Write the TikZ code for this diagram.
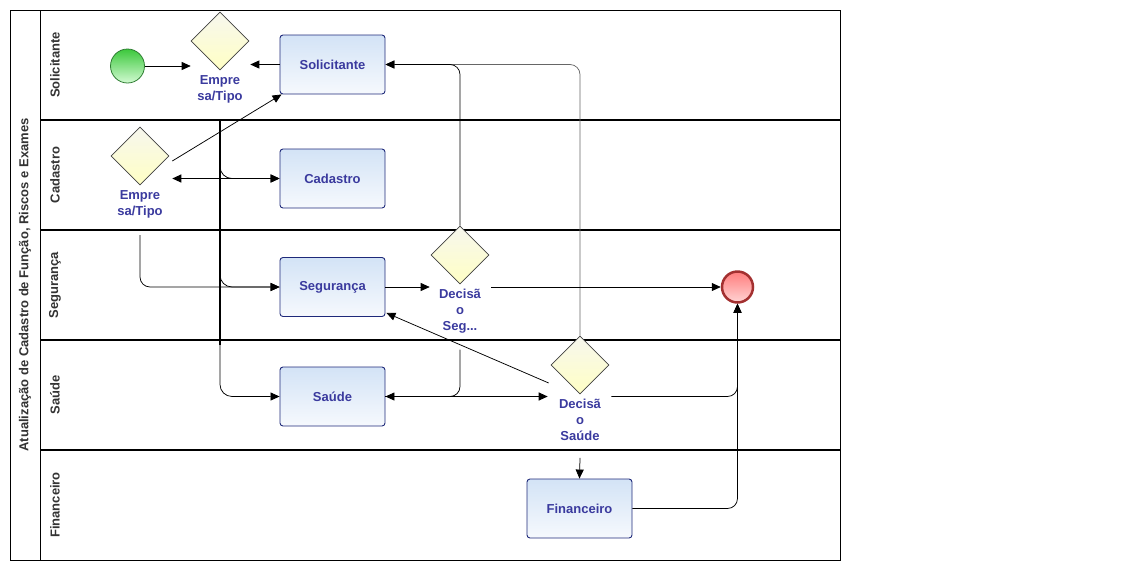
\documentclass[tikz,border=0pt]{standalone}
\usepackage{fontspec}
\setmainfont{Liberation Sans}
\usetikzlibrary{shapes.geometric,arrows.meta,calc}
\definecolor{txtblue}{HTML}{3A3A9E}
\definecolor{tasknavy}{HTML}{1F2A7A}
\definecolor{tasktop}{HTML}{D3E3F6}
\definecolor{taskbot}{HTML}{F6F9FD}
\definecolor{gwtop}{HTML}{F7F7EE}
\definecolor{gwbot}{HTML}{FFFFC4}
\definecolor{sttop}{HTML}{3CC83C}
\definecolor{stbot}{HTML}{D2FAD2}
\definecolor{stdraw}{HTML}{2E7D32}
\definecolor{entop}{HTML}{FF7C7C}
\definecolor{enbot}{HTML}{FFD4D4}
\definecolor{endraw}{HTML}{A33030}
\newcommand\bpfont{\bfseries\fontsize{13}{16}\selectfont}
\tikzset{
  task/.style={draw=tasknavy, line width=0.9pt, rounded corners=3pt, top color=tasktop, bottom color=taskbot,
    minimum width=105pt, minimum height=59pt, inner sep=0pt, font=\bpfont, text=txtblue},
  gate/.style={diamond, draw=black!75, line width=0.6pt, top color=gwtop, bottom color=gwbot,
    minimum width=58pt, minimum height=58pt, inner sep=0pt},
  gwlabel/.style={font=\bpfont, text=txtblue, align=center, inner sep=0pt, anchor=north},
  lanelabel/.style={rotate=90, font=\bpfont, text=black!80},
  tip/.tip={Triangle[length=9pt,width=8pt]},
  flow/.style={line width=0.75pt, -tip, rounded corners=10pt},
  lane/.style={line width=2.2pt},
}
\begin{document}
\begin{tikzpicture}[x=1pt,y=-1pt]
\useasboundingbox (0,0) rectangle (1141,566);
% pool and lanes
\draw[line width=0.8pt] (10,10) rectangle (840,560);
\draw[line width=0.8pt] (40,10) -- (40,560);
\foreach \yy in {120,230,340,450} \draw[lane] (40,\yy) -- (840,\yy);
\node[lanelabel] (pool) at (25,285) {Atualização de Cadastro de Função, Riscos e Exames};
\node[lanelabel] (l1) at (55,65) {Solicitante};
\node[lanelabel] (l2) at (55,175) {Cadastro};
\node[lanelabel] (l3) at (55,285) {Segurança};
\node[lanelabel] (l4) at (55,395) {Saúde};
\node[lanelabel] (l5) at (55,505) {Financeiro};
% events
\node[circle, draw=stdraw, line width=0.8pt, top color=sttop, bottom color=stbot, minimum size=34pt, inner sep=0pt] (start) at (127.5,66) {};
\node[circle, draw=endraw, line width=2.5pt, top color=entop, bottom color=enbot, minimum size=31pt, inner sep=0pt] (end) at (737.5,287) {};
% gateways
\node[gate] (D1) at (220,41) {};
\node[gwlabel] (L1) at (220,75) {Empre\\sa/Tipo};
\node[gate] (D2) at (140,156) {};
\node[gwlabel] (L2) at (140,190) {Empre\\sa/Tipo};
\node[gate] (DSeg) at (460,255) {};
\node[gwlabel] (LSeg) at (460,289) {Decisã\\o\\Seg...};
\node[gate] (DS) at (580,365) {};
\node[gwlabel] (LDS) at (580,399) {Decisã\\o\\Saúde};
% tasks
\node[task] (sol) at (332.5,64.5) {Solicitante};
\node[task] (cad) at (332.5,178.5) {Cadastro};
\node[task] (seg) at (332.5,287) {Segurança};
\node[task] (sau) at (332.5,396.5) {Saúde};
\node[task] (fin) at (579.5,508.5) {Financeiro};
% flows
\draw[flow] (start) -- (D1.west |- start);
\draw[flow] (sol.west) -- ($(D1.east |- sol.west)+(1,0)$);
\draw[flow, draw=black!60] (DS.north) |- (sol.east);
\draw[flow] (DSeg.north) |- (sol.east);
\draw[flow] ($(D2.east)+(3,5)$) -- ($(sol.south west)+(2,0)$);
\draw[line width=1.1pt, tip-tip] ($(D2.east |- cad.west)+(3,0)$) -- (cad.west);
\coordinate (t) at (220,120);
\draw[flow, rounded corners=12pt] (t) |- (cad.west);
\draw[flow, rounded corners=12pt] (t) |- (seg.west);
\draw[flow, rounded corners=12pt] (t) |- (sau.west);
\draw[line width=1.6pt] (t) -- (220,345);
\draw[flow] ($(L2.south)+(0,17)$) |- (seg.west);
\draw[flow] (seg.east) -- ($(DSeg.west |- seg.east)+(-1,0)$);
\draw[flow] ($(DSeg.east |- seg.east)+(2,0)$) -- (end.west);
\draw[flow] ($(LSeg.south)+(0,16)$) |- (sau.east);
\draw[flow, line width=1.1pt] (sau.east) -- ($(DS.west |- sau.east)+(-3,0)$);
\draw[flow] ($(DS.west)+(-2,18)$) -- ($(seg.south east)+(1,-4)$);
\draw[flow] ($(DS.east |- sau.east)+(2,0)$) -| (end.south);
\draw[flow] (fin.east) -| (end.south);
\draw[flow] ($(LDS.south)+(0,17)$) -- (fin.north);
\end{tikzpicture}
\end{document}
